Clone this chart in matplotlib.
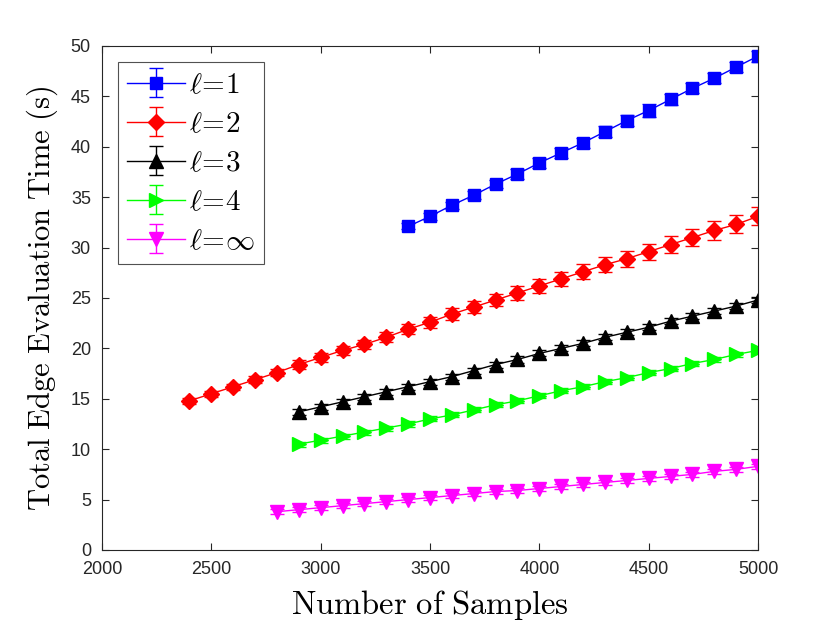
import matplotlib
matplotlib.use('Agg')
import matplotlib.pyplot as plt

# samples
x1 = list(range(3400, 5001, 100))
x2 = list(range(2400, 5001, 100))
x3 = list(range(2900, 5001, 100))
x4 = list(range(2900, 5001, 100))
xinf = list(range(2800, 5001, 100))

# mean times (s)
y1 = [32.1, 33.1, 34.2, 35.2, 36.3, 37.3, 38.4, 39.4, 40.4, 41.5, 42.6, 43.6,
      44.7, 45.8, 46.8, 47.9, 49.0]
y2 = [14.8, 15.5, 16.2, 16.9, 17.6, 18.4, 19.1, 19.8, 20.4, 21.1, 21.9, 22.6,
      23.4, 24.1, 24.8, 25.5, 26.2, 26.9, 27.6, 28.3, 28.9, 29.6, 30.3, 31.0,
      31.7, 32.3, 33.1]
y3 = [13.7, 14.2, 14.7, 15.2, 15.7, 16.2, 16.7, 17.2, 17.8, 18.4, 18.9, 19.5,
      20.0, 20.5, 21.1, 21.6, 22.1, 22.7, 23.2, 23.7, 24.2, 24.8]
y4 = [10.5, 10.9, 11.3, 11.7, 12.1, 12.5, 13.0, 13.4, 13.9, 14.4, 14.8, 15.3,
      15.8, 16.2, 16.7, 17.1, 17.6, 18.0, 18.5, 18.9, 19.4, 19.8]
yinf = [3.8, 4.0, 4.2, 4.4, 4.6, 4.8, 5.0, 5.2, 5.4, 5.6, 5.8, 5.9, 6.1, 6.3,
        6.5, 6.7, 6.9, 7.1, 7.3, 7.5, 7.8, 8.0, 8.3]

# error bar half-widths
e1 = [0.3, 0.35, 0.35, 0.4, 0.4, 0.45, 0.5, 0.5, 0.5, 0.55, 0.55, 0.6,
      0.55, 0.5, 0.5, 0.5, 0.55]
e2 = [0.3, 0.3, 0.3, 0.35, 0.35, 0.4, 0.4, 0.45, 0.45, 0.5, 0.5, 0.55,
      0.6, 0.6, 0.6, 0.65, 0.7, 0.7, 0.75, 0.75, 0.8, 0.8, 0.85, 0.85,
      0.9, 0.9, 0.9]
e3 = [0.3] * 22
e4 = [0.25] * 22
einf = [0.25] * 23

series = [
    (x1, y1, e1, 'b', 's', r'$\ell\!=\!1$', 8.5),
    (x2, y2, e2, 'r', 'D', r'$\ell\!=\!2$', 8),
    (x3, y3, e3, 'k', '^', r'$\ell\!=\!3$', 9.5),
    (x4, y4, e4, '#00ff00', '>', r'$\ell\!=\!4$', 9.5),
    (xinf, yinf, einf, '#ff00ff', 'v', r'$\ell\!=\!\infty$', 9.5),
]

plt.rcParams['mathtext.fontset'] = 'cm'
plt.rcParams['font.family'] = ['Liberation Sans', 'DejaVu Sans']

fig = plt.figure(figsize=(8.3, 6.23), dpi=100)
ax = fig.add_axes([102 / 830, 1 - 550 / 623, 656 / 830, 504 / 623])

for xs, ys, es, c, m, lab, ms in series:
    ax.errorbar(xs, ys, yerr=es, color=c, marker=m, markersize=ms, lw=1,
                elinewidth=1, capsize=5, label=lab)

ax.set_xlim(2000, 5000)
ax.set_ylim(0, 50)
ax.set_xticks(range(2000, 5001, 500))
ax.set_yticks(range(0, 51, 5))
ax.tick_params(direction='in', top=True, right=True, labelsize=13, length=5,
               pad=8, color='#262626', labelcolor='#262626')
for s in ax.spines.values():
    s.set_color('#262626')
    s.set_linewidth(0.8)

ax.set_xlabel(r'$\mathrm{Number\ of\ Samples}$', fontsize=23.5, labelpad=7)
ax.set_ylabel(r'$\mathrm{Total\ Edge\ Evaluation\ Time\ (s)}$', fontsize=22,
              labelpad=8)

leg = ax.legend(loc='upper left', fontsize=21, frameon=True, fancybox=False,
                edgecolor='#262626', handlelength=2.0, borderpad=0.3,
                labelspacing=0.38, handletextpad=0.15, borderaxespad=0,
                bbox_to_anchor=(16 / 656, 1 - 16 / 504))
leg.get_frame().set_linewidth(0.8)

plt.savefig('out.png', dpi=100)
